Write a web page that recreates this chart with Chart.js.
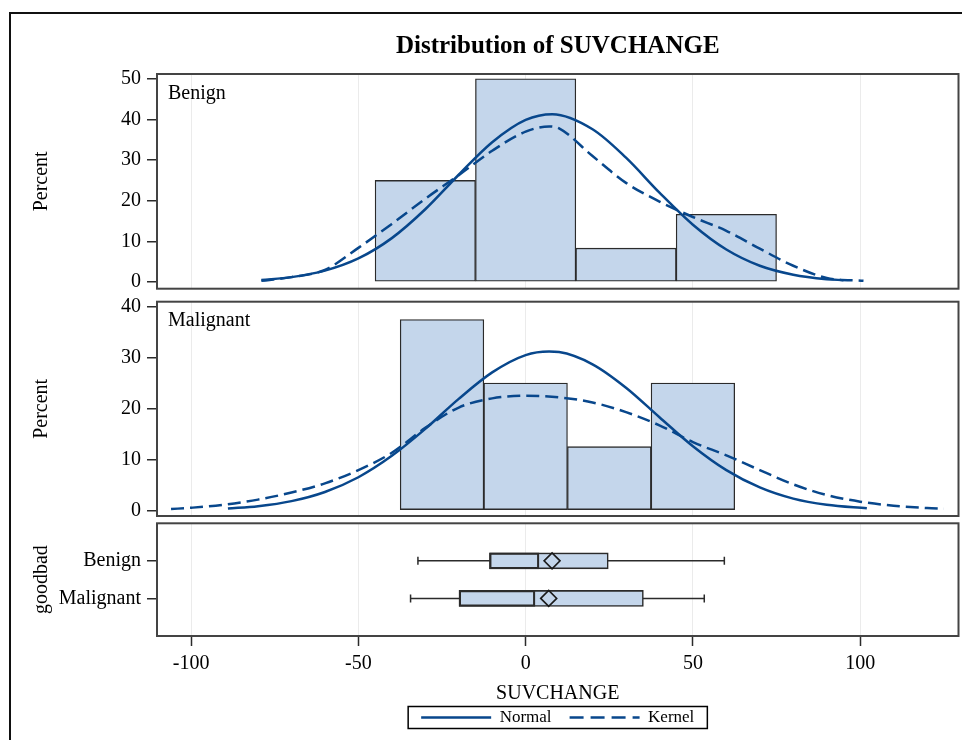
<!DOCTYPE html>
<html>
<head>
<meta charset="utf-8">
<title>Distribution of SUVCHANGE</title>
<script src="https://cdn.jsdelivr.net/npm/chart.js@4.4.1/dist/chart.umd.min.js"></script>
<style>
  html, body { margin: 0; padding: 0; background: #fff; overflow: hidden; }
  #wrap { position: relative; width: 962px; height: 740px; }
  #wrap canvas { position: absolute; left: 0; top: 0; }
  #frame { position: absolute; left: 9px; top: 12px; width: 990px; height: 770px;
           border-left: 2px solid #111; border-top: 2px solid #111; }
</style>
</head>
<body>
<div id="wrap">
  <div id="frame"></div>
  <canvas id="benignChart" width="962" height="740"></canvas>
  <canvas id="malignantChart" width="962" height="740"></canvas>
  <canvas id="boxChart" width="962" height="740"></canvas>
</div>
<script>
// histogram midpoints and percents
var benignMid = [-30, 0, 30, 60];
var benignPct = [25, 50, 8.33, 16.67];
var malignantMid = [-25, 0, 25, 50];
var malignantPct = [37.5, 25, 12.5, 25];

// fitted curves
var benignNormalX = [-79, -70, -60, -50, -40, -30, -20, -10, 0, 8, 20, 30, 40, 50, 60, 70, 80, 90, 95];
var benignNormalY = [0.5, 1.2, 2.8, 5.8, 10.8, 17.9, 26.4, 34.4, 39.9, 41.3, 37.6, 30.6, 22.0, 14.1, 8.0, 4.0, 1.8, 0.7, 0.45];
var benignKernelX = [-79, -70, -60, -50, -40, -30, -20, -10, 0, 7, 10, 20, 30, 40, 50, 60, 70, 80, 90, 101];
var benignKernelY = [0.3, 1.2, 3.0, 8.4, 14.3, 20.5, 26.3, 32.3, 37.0, 38.3, 37.8, 31.0, 24.4, 19.8, 16.0, 12.6, 8.2, 4.0, 1.0, 0.3];

var malignantNormalX = [-89, -80, -70, -60, -50, -40, -30, -20, -10, 0, 7, 10, 20, 30, 40, 50, 60, 70, 80, 90, 102];
var malignantNormalY = [0.35, 0.8, 1.8, 3.6, 6.5, 10.7, 16.0, 21.9, 27.1, 30.5, 31.2, 31.1, 28.7, 24.1, 18.3, 12.6, 7.9, 4.5, 2.3, 1.1, 0.4];
var malignantKernelX = [-106, -100, -90, -80, -70, -60, -50, -40, -30, -20, -10, 0, 10, 20, 30, 40, 50, 60, 70, 80, 90, 100, 110, 120, 125];
var malignantKernelY = [0.25, 0.5, 1.1, 2.1, 3.5, 5.3, 7.9, 11.3, 16.2, 20.2, 22.0, 22.5, 22.2, 21.2, 19.3, 16.7, 13.4, 10.8, 7.9, 5.1, 3.0, 1.7, 0.9, 0.45, 0.3];

// box plot stats by goodbad
var groups = ['Benign', 'Malignant'];
var whiskerLow = [-32.2, -34.4];
var q1 = [-10.8, -19.9];
var median = [4.0, 2.8];
var mean = [7.9, 6.9];
var q3 = [24.7, 35.2];
var whiskerHigh = [59.4, 53.4];

// axis ticks
var xTicks = [-100, -50, 0, 50, 100];
var benignTicks = [0, 10, 20, 30, 40, 50];
var malignantTicks = [0, 10, 20, 30, 40];

var xMin = -110.2, xMax = 129.4;

var fill = '#c4d6eb';
var curve = '#08478c';
var edge = '#2b2b2b';
var gridColor = '#ebebeb';
var frameColor = '#444444';

Chart.defaults.font.family = '"Liberation Serif", "Times New Roman", serif';
Chart.defaults.font.size = 20;
Chart.defaults.color = '#000';

function toPoints(xs, ys) {
    return xs.map(function(x, i) { return {x: x, y: ys[i]}; });
}

function tickList(list) {
    return function(scale) {
        scale.ticks = list.map(function(v) { return {value: v}; });
    };
}

// box round every plot area
var framePlugin = {
    id: 'panelFrame',
    afterDraw: function(chart) {
        var a = chart.chartArea, ctx = chart.ctx;
        ctx.save();
        ctx.strokeStyle = frameColor;
        ctx.lineWidth = 2;
        ctx.strokeRect(a.left, a.top, a.right - a.left, a.bottom - a.top);
        ctx.restore();
    }
};

// "Benign" / "Malignant" in the corner of the panel
var insetPlugin = {
    id: 'insetLabel',
    afterDraw: function(chart, args, opts) {
        if (!opts.text) return;
        var a = chart.chartArea, ctx = chart.ctx;
        ctx.save();
        ctx.font = '20px "Liberation Serif", serif';
        ctx.fillStyle = '#000';
        ctx.textBaseline = 'middle';
        ctx.fillText(opts.text, a.left + 11, a.top + 19.5);
        ctx.restore();
    }
};

// border round the legend
var legendFrame = {
    id: 'legendFrame',
    afterDraw: function(chart) {
        var hb = chart.legend && chart.legend.legendHitBoxes;
        if (!hb || !hb.length) return;
        var first = hb[0], last = hb[hb.length - 1];
        var mid = first.top + first.height / 2;
        var left = first.left - 13;
        var right = last.left + last.width + 13;
        var ctx = chart.ctx;
        ctx.save();
        ctx.strokeStyle = '#000';
        ctx.lineWidth = 1.5;
        ctx.strokeRect(left, mid - 11, right - left, 22);
        ctx.restore();
    }
};

function makeHist(canvasId, label, mids, pcts, normX, normY, kernX, kernY, yMin, yMax, yTicks, pad, showTitle) {
    return new Chart(document.getElementById(canvasId), {
        type: 'bar',
        data: {
            datasets: [
                {
                    type: 'line', label: 'Normal', data: toPoints(normX, normY),
                    borderColor: curve, borderWidth: 2.5, pointRadius: 0,
                    cubicInterpolationMode: 'monotone', fill: false, order: 0
                },
                {
                    type: 'line', label: 'Kernel', data: toPoints(kernX, kernY),
                    borderColor: curve, borderWidth: 2.5, borderDash: [13, 6], pointRadius: 0,
                    cubicInterpolationMode: 'monotone', fill: false, order: 1
                },
                {
                    type: 'bar', label: label, data: toPoints(mids, pcts),
                    backgroundColor: fill, borderColor: edge, borderWidth: 1.3, borderSkipped: false,
                    barPercentage: 1, categoryPercentage: 1, order: 2
                }
            ]
        },
        options: {
            responsive: false,
            animation: false,
            devicePixelRatio: 1,
            layout: { padding: pad, autoPadding: false },
            plugins: {
                legend: { display: false },
                tooltip: { enabled: false },
                title: {
                    display: showTitle, text: 'Distribution of SUVCHANGE', fullSize: false,
                    font: { size: 25, weight: 'bold' }, color: '#000',
                    padding: { top: 32, bottom: 12 }
                },
                insetLabel: { text: label }
            },
            scales: {
                x: {
                    type: 'linear', min: xMin, max: xMax, bounds: 'data', offset: false,
                    afterBuildTicks: tickList(xTicks),
                    ticks: { display: false },
                    grid: { color: gridColor, drawTicks: false, offset: false },
                    border: { display: false }
                },
                y: {
                    type: 'linear', min: yMin, max: yMax, bounds: 'data', beginAtZero: false,
                    afterBuildTicks: tickList(yTicks),
                    afterFit: function(s) { s.width = 157; },
                    ticks: { padding: 6 },
                    grid: { drawOnChartArea: false, tickLength: 10, color: edge, lineWidth: 1.5 },
                    border: { display: false },
                    title: { display: true, text: 'Percent', padding: { top: 30, bottom: 0 } }
                }
            }
        },
        plugins: [framePlugin, insetPlugin]
    });
}

makeHist('benignChart', 'Benign', benignMid, benignPct, benignNormalX, benignNormalY,
         benignKernelX, benignKernelY, -1.65, 51.2, benignTicks,
         { left: 0, right: 3.5, top: 0, bottom: 451.3 }, true);

makeHist('malignantChart', 'Malignant', malignantMid, malignantPct, malignantNormalX, malignantNormalY,
         malignantKernelX, malignantKernelY, -1.12, 41, malignantTicks,
         { left: 0, right: 3.5, top: 301.7, bottom: 224 }, false);

// box plot panel
var yLabels = [''].concat(groups).concat(['']);

var boxSets = [
    {
        type: 'line', label: 'Mean',
        data: groups.map(function(g, i) { return {x: mean[i], y: g}; }),
        showLine: false, pointStyle: 'rectRot', pointRadius: 8,
        pointBackgroundColor: 'rgba(0,0,0,0)', pointBorderColor: '#1a1a1a', pointBorderWidth: 1.6, order: 0
    },
    {
        type: 'bar', label: 'Median', indexAxis: 'y',
        data: groups.map(function(g, i) { return {y: g, x: [q1[i], median[i]]}; }),
        backgroundColor: 'rgba(0,0,0,0)', borderColor: edge, borderWidth: 1.6, borderSkipped: false,
        barThickness: 16, grouped: false, order: 1
    },
    {
        type: 'bar', label: 'Box', indexAxis: 'y',
        data: groups.map(function(g, i) { return {y: g, x: [q1[i], q3[i]]}; }),
        backgroundColor: fill, borderColor: edge, borderWidth: 1.6, borderSkipped: false,
        barThickness: 16, grouped: false, order: 2
    }
];
groups.forEach(function(g, i) {
    boxSets.push({
        type: 'line', label: 'Whisker ' + g,
        data: [{x: whiskerLow[i], y: g}, {x: whiskerHigh[i], y: g}],
        borderColor: edge, borderWidth: 1.5,
        pointStyle: 'line', pointRotation: 90, pointRadius: 4,
        pointBorderColor: edge, pointBorderWidth: 1.5, order: 3
    });
});

new Chart(document.getElementById('boxChart'), {
    type: 'bar',
    data: { datasets: boxSets },
    options: {
        responsive: false,
        animation: false,
        devicePixelRatio: 1,
        layout: { padding: { left: 0, right: 3.5, top: 523.3, bottom: 4 }, autoPadding: false },
        plugins: {
            tooltip: { enabled: false },
            legend: {
                display: true, position: 'bottom', fullSize: false,
                labels: {
                    boxWidth: 70, boxHeight: 0, padding: 18, color: '#000',
                    font: { size: 17 },
                    generateLabels: function() {
                        return [
                            { text: 'Normal', strokeStyle: curve, fillStyle: 'rgba(0,0,0,0)', lineWidth: 2.5, lineDash: [], hidden: false },
                            { text: 'Kernel', strokeStyle: curve, fillStyle: 'rgba(0,0,0,0)', lineWidth: 2.5, lineDash: [14, 7], hidden: false }
                        ];
                    }
                }
            }
        },
        scales: {
            x: {
                type: 'linear', position: 'bottom', min: xMin, max: xMax, bounds: 'data', offset: false,
                afterBuildTicks: tickList(xTicks),
                ticks: { padding: 6, maxRotation: 0, autoSkip: false },
                grid: { color: gridColor, tickColor: edge, tickLength: 10, tickWidth: 1.5, offset: false },
                border: { display: false },
                title: { display: true, text: 'SUVCHANGE', padding: { top: 0, bottom: -15 } }
            },
            y: {
                type: 'category', labels: yLabels, offset: false,
                afterBuildTicks: function(s) {
                    s.ticks = s.ticks.filter(function(t) { return yLabels[t.value] !== ''; });
                },
                afterFit: function(s) { s.width = 157; },
                ticks: { padding: 6 },
                grid: { drawOnChartArea: false, tickLength: 10, color: edge, lineWidth: 1.5, offset: false },
                border: { display: false },
                title: { display: true, text: 'goodbad', padding: { top: 30, bottom: 0 } }
            }
        }
    },
    plugins: [framePlugin, legendFrame]
});
</script>
</body>
</html>
